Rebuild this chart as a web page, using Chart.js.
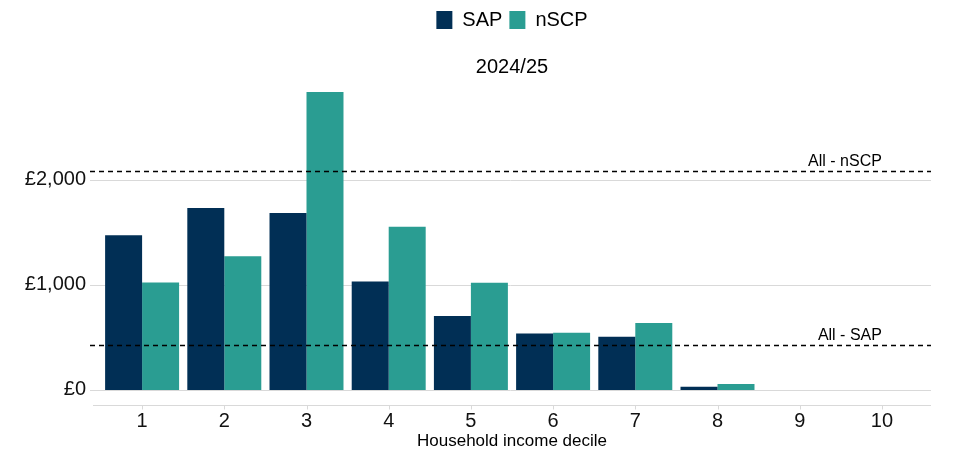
<!DOCTYPE html>
<html>
<head>
<meta charset="utf-8">
<script src="https://cdn.jsdelivr.net/npm/chart.js@4/dist/chart.umd.min.js"></script>
<style>
  html, body { margin: 0; padding: 0; background: #fff; }
  #wrap { width: 960px; height: 458px; }
</style>
</head>
<body>
<div id="wrap"><canvas id="grafico"></canvas></div>
<script>
// data
const deciles = ['1', '2', '3', '4', '5', '6', '7', '8', '9', '10'];
const sap = [1474, 1732, 1684, 1033, 705, 536, 507, 29, 0, 0];
const nscp = [1024, 1273, 2839, 1553, 1021, 545, 638, 57, 0, 0];
const allSap = 424;
const allNscp = 2083;
const yTicks = [0, 1000, 2000];

const extras = {
    id: 'extras',
    beforeDatasetsDraw(chart) {
        const { ctx, chartArea, scales: { x, y } } = chart;
        ctx.save();
        ctx.strokeStyle = '#d9d9d9';
        ctx.lineWidth = 1;
        yTicks.forEach(v => {
            const py = Math.round(y.getPixelForValue(v)) + 0.5;
            ctx.beginPath();
            ctx.moveTo(chartArea.left - 11, py);
            ctx.lineTo(chartArea.right + 8, py);
            ctx.stroke();
        });
        // x axis line + tick marks
        const by = Math.round(chartArea.bottom) + 0.5;
        ctx.beginPath();
        ctx.moveTo(chartArea.left - 8, by);
        ctx.lineTo(chartArea.right + 8, by);
        ctx.stroke();
        deciles.forEach((d, i) => {
            const px = Math.round(x.getPixelForValue(i)) + 0.5;
            ctx.beginPath();
            ctx.moveTo(px, by);
            ctx.lineTo(px, by + 4);
            ctx.stroke();
        });
        ctx.restore();
    },
    afterDatasetsDraw(chart) {
        const { ctx, chartArea, scales: { x, y } } = chart;
        const textX = x.getPixelForValue(deciles.length - 1);
        ctx.save();
        ctx.strokeStyle = '#000';
        ctx.lineWidth = 1.3;
        ctx.setLineDash([5, 4]);
        [[allNscp, 'All - nSCP'], [allSap, 'All - SAP']].forEach(([v, txt]) => {
            const py = Math.round(y.getPixelForValue(v)) + 0.5;
            ctx.beginPath();
            ctx.moveTo(chartArea.left - 11, py);
            ctx.lineTo(chartArea.right + 8, py);
            ctx.stroke();
            ctx.fillStyle = '#000';
            ctx.font = '16px "Liberation Sans", Arial, sans-serif';
            ctx.textAlign = 'right';
            ctx.textBaseline = 'alphabetic';
            ctx.fillText(txt, textX, py - 6);
        });
        ctx.restore();
    }
};

Chart.defaults.font.family = '"Liberation Sans", Arial, sans-serif';
Chart.defaults.color = '#000';

new Chart(document.getElementById('grafico').getContext('2d'), {
    type: 'bar',
    data: {
        labels: deciles,
        datasets: [
            { label: 'SAP', data: sap, backgroundColor: '#012f55' },
            { label: 'nSCP', data: nscp, backgroundColor: '#2a9d92' }
        ]
    },
    options: {
        responsive: true,
        maintainAspectRatio: false,
        devicePixelRatio: 1,
        animation: false,
        layout: { padding: { left: 0, right: 37, top: 3, bottom: 5 } },
        datasets: { bar: { categoryPercentage: 0.9, barPercentage: 1 } },
        plugins: {
            legend: {
                position: 'top',
                fullSize: false,
                weight: 1000,
                labels: { boxWidth: 16, boxHeight: 18, padding: 7, font: { size: 20 }, color: '#000' }
            },
            title: {
                display: true,
                text: '2024/25',
                fullSize: false,
                weight: 500,
                font: { size: 20, weight: 'normal' },
                color: '#000',
                padding: { top: 15, bottom: 7 }
            },
            tooltip: { enabled: false }
        },
        scales: {
            x: {
                grid: { display: false, drawTicks: false },
                border: { display: false },
                ticks: { padding: 4, font: { size: 20 }, color: '#111' },
                title: {
                    display: true,
                    text: 'Household income decile',
                    font: { size: 17 },
                    color: '#000',
                    padding: { top: 0, bottom: 1 }
                },
                afterFit(scale) { scale.height = 48; }
            },
            y: {
                min: -144,
                max: 2895,
                grid: { display: false, drawTicks: false },
                border: { display: false },
                afterBuildTicks(scale) { scale.ticks = yTicks.map(v => ({ value: v })); },
                afterFit(scale) { scale.width = 101; },
                ticks: {
                    padding: 15,
                    font: { size: 20 },
                    color: '#111',
                    callback: v => '£' + v.toLocaleString('en-GB')
                }
            }
        }
    },
    plugins: [extras]
});
</script>
</body>
</html>
